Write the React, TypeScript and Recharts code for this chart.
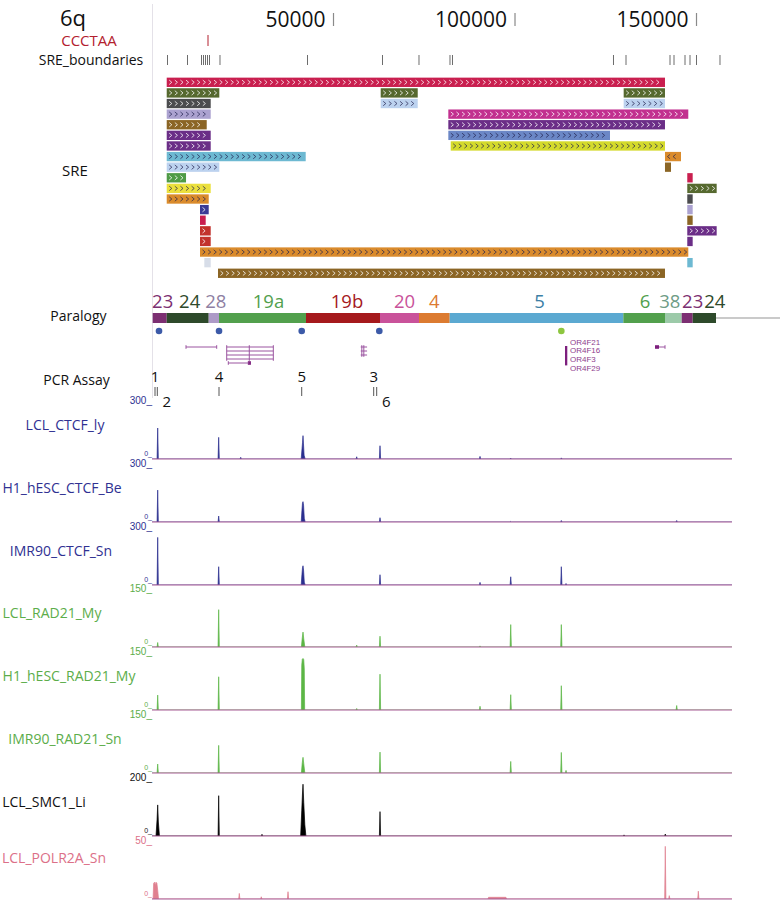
import React from 'react';
import { ComposedChart, Area, Scatter, XAxis, YAxis, ReferenceArea, ReferenceLine } from 'recharts';

// ---- coordinate frame (bp) ----
const X_MIN = -41873;
const X_MAX = 173000;
const TRACK_END = 159770;
const W = 780;
const FONT = '"Open Sans", "Noto Sans", sans-serif';
const SMALL_FONT = '"Liberation Sans", Arial, sans-serif';
const M0 = { top: 0, right: 0, bottom: 0, left: 0 };

// ---- header ----
const AXIS_TICKS = [50000, 100000, 150000];
const CCCTAA_SITES = [15430];
const SRE_BOUNDARIES = [
  4270, 9780, 13640, 14190, 14740, 15290, 15840, 18730, 42840, 63500, 73550,
  82090, 82780, 127130, 130580, 142700, 143800, 146830, 148210, 150000, 156470,
];

// ---- SRE blocks: [row, start, end, family, strand] ----
const SRE_ROWS = 19;
const SRE_SEGMENTS: [number, number, number, string, string][] = [
  [0, 4050, 141320, 'crimson', '+'],
  [1, 4050, 18540, 'olive', '+'],
  [1, 63000, 73200, 'olive', '+'],
  [1, 129940, 141320, 'olive', '+'],
  [2, 4050, 16170, 'slate', '+'],
  [2, 63000, 73200, 'sky', '+'],
  [2, 129940, 141320, 'sky', '+'],
  [3, 4050, 16170, 'lavender', '+'],
  [3, 81630, 147740, 'magenta', '+'],
  [4, 4050, 15070, 'bronze', '+'],
  [4, 81630, 141320, 'purple', '+'],
  [5, 4050, 16170, 'purple', '+'],
  [5, 81630, 126170, 'cornflower', '+'],
  [6, 4050, 16170, 'purple', '+'],
  [6, 82290, 141320, 'chartreuse', '+'],
  [7, 4050, 42340, 'cyan', '+'],
  [7, 141320, 145730, 'orange', '-'],
  [8, 4050, 18540, 'sky', '+'],
  [8, 141320, 142980, 'bronze', '+'],
  [9, 4050, 9370, 'green', '+'],
  [9, 147460, 148950, 'crimson', '+'],
  [10, 4050, 16170, 'yellow', '+'],
  [10, 147460, 155560, 'olive', '+'],
  [11, 4050, 15620, 'orange', '+'],
  [11, 147460, 148950, 'slate', '+'],
  [12, 13220, 15620, 'indigo', '+'],
  [12, 147460, 148950, 'lavender', '+'],
  [13, 13220, 14790, 'crimson', '+'],
  [13, 147460, 148950, 'bronze', '+'],
  [14, 13220, 16170, 'red', '+'],
  [14, 147460, 155560, 'purple', '+'],
  [15, 13220, 16170, 'red', '+'],
  [15, 147460, 148950, 'purple', '+'],
  [16, 13220, 147740, 'orange', '+'],
  [17, 14410, 16170, 'mist', '+'],
  [17, 147460, 148950, 'cyan', '+'],
  [18, 18180, 141320, 'bronze', '+'],
];

// ---- paralogy ----
const PARALOGY_BLOCKS = ['23', '24', '28', '19a', '19b', '20', '4', '5', '6', '38', '23', '24'];
const PARALOGY_STARTS = [190, 4050, 15620, 18460, 42420, 62810, 73550, 82010, 129840, 141320, 145920, 148950];
const PARALOGY_ENDS = [4050, 15620, 18460, 42420, 62810, 73550, 82010, 129840, 141320, 145920, 148950, 155370];
const PARALOGY_TAIL_END = 175000;

// ---- sites and genes ----
const DOT_POS = [1930, 18460, 41240, 62620, 112760];
const DOT_KIND = ['ctcf', 'ctcf', 'ctcf', 'ctcf', 'other'];

const GENE_LINES: [number, number, number][] = [
  [0, 9370, 17820],
  [0, 20580, 33420], [1, 20580, 33420], [2, 20580, 33420], [3, 20580, 33420],
  [4, 21020, 26800],
  [0, 57500, 59250], [1, 57500, 59250], [2, 57500, 59250],
  [0, 139670, 141320],
];
const GENE_TICKS: [number, number, number][] = [
  [9370, 0, 0], [17820, 0, 0],
  [20580, 0, 3], [26800, 0, 3], [33420, 0, 3],
  [21020, 4, 4],
  [57800, 0, 2], [58350, 0, 2],
  [141320, 0, 0],
];
const GENE_EXONS: [number, number, number, number][] = [
  [26400, 27250, 4, 4],
  [138570, 139670, 0, 0],
];
const OR_CLUSTER = [113770, 114400];
const OR_GENES = ['OR4F21', 'OR4F16', 'OR4F3', 'OR4F29'];

// ---- PCR assays ----
const PCR_NAMES = ['1', '2', '4', '5', '3', '6'];
const PCR_SITES = [830, 1460, 18460, 41240, 61070, 61900];

// ---- signal tracks: [bp, value] ----
const LCL_CTCF_LY = [
  [0, 0], [1400, 0], [1570, 166], [1740, 0],
  [18200, 0], [18370, 116], [18540, 0],
  [24270, 0], [24440, 9], [24610, 0],
  [41100, 0], [41330, 55], [41480, 90], [41600, 125], [41720, 85], [41900, 20], [42200, 0],
  [56220, 0], [56390, 12], [56560, 0],
  [62640, 0], [62810, 71], [62980, 0],
  [90190, 0], [90360, 14], [90530, 0],
  [98650, 0], [98820, 5], [98990, 0],
  [112590, 0], [112760, 6], [112930, 0],
  [159770, 0],
];
const H1_HESC_CTCF_BE = [
  [0, 0], [1400, 0], [1570, 171], [1740, 0],
  [18200, 0], [18370, 32], [18540, 0],
  [41100, 0], [41300, 60], [41450, 100], [41600, 109], [41750, 90], [41950, 20], [42200, 0],
  [62640, 0], [62810, 23], [62980, 0],
  [98650, 0], [98820, 3], [98990, 0],
  [112590, 0], [112760, 8], [112930, 0],
  [144370, 0], [144540, 8], [144710, 0],
  [159770, 0],
];
const IMR90_CTCF_SN = [
  [0, 0], [1400, 0], [1570, 255], [1740, 0],
  [18200, 0], [18370, 98], [18540, 0],
  [41100, 0], [41300, 55], [41450, 90], [41600, 103], [41750, 80], [41950, 15], [42200, 0],
  [62640, 0], [62810, 55], [62980, 0],
  [90190, 0], [90360, 14], [90530, 0],
  [98650, 0], [98820, 44], [98990, 0],
  [112590, 0], [112760, 98], [112930, 0],
  [113880, 0], [114050, 8], [114220, 0],
  [159770, 0],
];
const LCL_RAD21_MY = [
  [0, 0], [1400, 0], [1570, 12], [1740, 0],
  [18200, 0], [18370, 100], [18540, 0],
  [41150, 0], [41400, 25], [41600, 40], [41800, 22], [42100, 0],
  [56220, 0], [56390, 5], [56560, 0],
  [62640, 0], [62810, 29], [62980, 0],
  [90190, 0], [90360, 3], [90530, 0],
  [98650, 0], [98820, 60], [98990, 0],
  [112590, 0], [112760, 60], [112930, 0],
  [159770, 0],
];
const H1_HESC_RAD21_MY = [
  [0, 0], [1400, 0], [1570, 40], [1740, 0],
  [18200, 0], [18370, 89], [18540, 0],
  [41150, 0], [41250, 120], [41400, 136], [41600, 138], [41800, 135], [41950, 110], [42050, 0],
  [56220, 0], [56390, 4], [56560, 0],
  [62640, 0], [62810, 96], [62980, 0],
  [90190, 0], [90360, 10], [90530, 0],
  [98650, 0], [98820, 41], [98990, 0],
  [112590, 0], [112760, 65], [112930, 0],
  [144370, 0], [144540, 12], [144710, 0],
  [159770, 0],
];
const IMR90_RAD21_SN = [
  [0, 0], [1400, 0], [1570, 24], [1740, 0],
  [18200, 0], [18370, 74], [18540, 0],
  [41150, 0], [41400, 28], [41600, 42], [41800, 25], [42100, 0],
  [62640, 0], [62810, 56], [62980, 0],
  [98650, 0], [98820, 31], [98990, 0],
  [112590, 0], [112760, 55], [112930, 0],
  [113880, 0], [114050, 7], [114220, 0],
  [159770, 0],
];
const LCL_SMC1_LI = [
  [0, 0], [1100, 0], [1400, 60], [1570, 111], [1750, 50], [2050, 0],
  [18200, 0], [18370, 144], [18540, 0],
  [30130, 0], [30300, 6], [30470, 0],
  [40950, 0], [41250, 90], [41450, 150], [41600, 185], [41800, 120], [42100, 40], [42400, 0],
  [62640, 0], [62810, 87], [62980, 0],
  [129860, 0], [130030, 4], [130200, 0],
  [141230, 0], [141400, 7], [141570, 0],
  [159770, 0],
];
const LCL_POLR2A_SN = [
  [0, 0], [300, 0], [450, 14], [700, 15], [900, 12], [1100, 15], [1350, 14], [1600, 7], [1800, 0],
  [23880, 0], [24050, 5], [24220, 0],
  [29930, 0], [30100, 2], [30270, 0],
  [37300, 0], [37470, 6.5], [37640, 0],
  [92560, 0], [92700, 1.5], [97500, 1.5], [97710, 0],
  [141230, 0], [141400, 47], [141570, 0],
  [142330, 0], [142500, 3], [142670, 0],
  [150330, 0], [150500, 7], [150670, 0],
  [159770, 0],
];

const TRACK_NAMES = [
  'LCL_CTCF_ly', 'H1_hESC_CTCF_Be', 'IMR90_CTCF_Sn', 'LCL_RAD21_My',
  'H1_hESC_RAD21_My', 'IMR90_RAD21_Sn', 'LCL_SMC1_Li', 'LCL_POLR2A_Sn',
];
const TRACK_MAX = [300, 300, 300, 150, 150, 150, 200, 50];
const TRACK_PROFILES = [
  LCL_CTCF_LY, H1_HESC_CTCF_BE, IMR90_CTCF_SN, LCL_RAD21_MY,
  H1_HESC_RAD21_MY, IMR90_RAD21_SN, LCL_SMC1_LI, LCL_POLR2A_SN,
];

// ---- styles ----
const SRE_COLOR: Record<string, string> = {
  crimson: '#c91f4f', olive: '#56692f', slate: '#4b4c4e', sky: '#bcd2ef',
  lavender: '#aba2d0', magenta: '#c2308f', bronze: '#8b6525', purple: '#6b2e87',
  cornflower: '#6b87c6', chartreuse: '#d4da2c', cyan: '#6db9d2', orange: '#da8b2c',
  green: '#4f9b46', yellow: '#ebe03d', indigo: '#3a3b96', red: '#c2322c', mist: '#d7dde8',
};
const DARK_INK = new Set(['sky', 'lavender', 'cornflower', 'chartreuse', 'cyan', 'orange', 'yellow', 'mist']);

const PARALOGY_FILL: Record<string, string> = {
  '23': '#7c2f72', '24': '#2e4a2b', '28': '#ad9ac7', '19a': '#52a04d', '19b': '#a5191d',
  '20': '#c9529a', '4': '#dc7b31', '5': '#5ba9d1', '6': '#52a04d', '38': '#9ccaa9',
};
const PARALOGY_INK: Record<string, string> = {
  ...PARALOGY_FILL, '28': '#8f7fa3', '38': '#6f9c86', '5': '#3d7fa6',
};
const PARALOGY_NUDGE = [3, 2, 2, 6, 4, 5, 0, 3, 1, -3.5, 5.5, 10.5];

const GENE_COLOR = '#8e3d8e';
const BASELINE = '#a65a94';
const TRACK_BASE_Y = [459, 522, 584.5, 647, 710, 773, 836, 898.5];
const TRACK_H = 56;
const TRACK_FILL = ['#2b2f8f', '#2b2f8f', '#2b2f8f', '#5cb646', '#5cb646', '#5cb646', '#000000', '#e0808f'];
const TRACK_INK = ['#2f3192', '#2f3192', '#2f3192', '#5cad4a', '#5cad4a', '#5cad4a', '#111111', '#dc7088'];
const TRACK_LABEL_CX = [65, 62, 61, 52, 69, 65, 44, 54];
const TRACK_LABEL_DY = [-34, -34, -34, -34, -34, -34, -34, -41];

// clip=false keeps scatter glyphs/labels from being cut to the thin plot strip
const xAxis = (clip = true) => (
  <XAxis type="number" dataKey="x" domain={[X_MIN, X_MAX]} hide allowDataOverflow={clip} />
);

function Box({ top, height, children }: { top: number; height: number; children: React.ReactNode }) {
  return <div style={{ position: 'absolute', left: 0, top, width: W, height, overflow: 'visible' }}>{children}</div>;
}

function Label({ cx, cy, size, color = '#111', children }: any) {
  return (
    <div style={{
      position: 'absolute', left: cx - 150, width: 300, top: cy, transform: 'translateY(-50%)',
      textAlign: 'center', fontSize: size, lineHeight: 1, color, whiteSpace: 'nowrap',
    }}>{children}</div>
  );
}

const AxisTick = (props: any) => {
  const { x, payload } = props;
  return (
    <g>
      <text x={x - 8} y={27} textAnchor="end" fontSize={21} fill="#111" fontFamily={FONT}>{payload.value}</text>
      <line x1={x} x2={x} y1={13} y2={26} stroke="#8a8a8a" strokeWidth={1.2} />
    </g>
  );
};

function sreShape(family: string, strand: string) {
  return (p: any) => {
    const { x, y, width, height } = p;
    const ink = DARK_INK.has(family) ? 'rgba(35,35,80,0.8)' : 'rgba(255,255,255,0.85)';
    const yc = y + height / 2;
    let d = '';
    for (let cx = x + 2.5; cx + 2.6 <= x + width - 1.5; cx += 5.6) {
      d += strand === '-'
        ? `M${cx + 2.6},${yc - 2.2}L${cx},${yc}L${cx + 2.6},${yc + 2.2}`
        : `M${cx},${yc - 2.2}L${cx + 2.6},${yc}L${cx},${yc + 2.2}`;
    }
    return (
      <g>
        <rect x={x} y={y} width={width} height={height} fill={SRE_COLOR[family]} />
        {d && <path d={d} fill="none" stroke={ink} strokeWidth={0.9} />}
      </g>
    );
  };
}

function paralogyShape(i: number) {
  return (p: any) => {
    const name = PARALOGY_BLOCKS[i];
    return (
      <g>
        <rect x={p.x} y={p.y} width={p.width} height={p.height} fill={PARALOGY_FILL[name]} />
        <text x={p.x + p.width / 2 + PARALOGY_NUDGE[i]} y={p.y - 5} textAnchor="middle"
          fontSize={18.5} fill={PARALOGY_INK[name]} fontFamily={FONT}>{name}</text>
      </g>
    );
  };
}

const orShape = (p: any) => (
  <g>
    <rect x={p.x} y={p.y} width={Math.max(p.width, 2.3)} height={p.height} fill="#7d1f7d" />
    {OR_GENES.map((g, k) => (
      <text key={g} x={p.x + 5} y={p.y - 1.5 + k * 8.9} fontSize={8} fill={GENE_COLOR}
        fontFamily={SMALL_FONT}>{g}</text>
    ))}
  </g>
);

const dotShape = (p: any) => (
  <circle cx={p.cx} cy={p.cy} r={3.3} fill={p.payload.kind === 'ctcf' ? '#3c5aa8' : '#8dc63f'} />
);

const pcrShape = (p: any) => {
  const below = p.payload.name === '2' || p.payload.name === '6';
  return (
    <g>
      <line x1={p.cx} x2={p.cx} y1={p.cy - 4.5} y2={p.cy + 4.5} stroke="#555" strokeWidth={1} />
      <text x={below ? p.cx + 9.5 : p.cx} y={below ? p.cy + 15 : p.cy - 10} textAnchor="middle"
        fontSize={15} fill="#111" fontFamily={FONT}>{p.payload.name}</text>
    </g>
  );
};

const tickShape = (color: string, half: number) => (p: any) => (
  <line x1={p.cx} x2={p.cx} y1={p.cy - half} y2={p.cy + half} stroke={color} strokeWidth={1} />
);

export default function App() {
  const sreH = SRE_ROWS * 10.61;
  return (
    <div style={{
      position: 'absolute', left: 0, top: 0, width: W, height: 900, background: '#fff',
      fontFamily: FONT, overflow: 'hidden',
    }}>
      <style>{'.recharts-surface, .recharts-wrapper{overflow:visible !important}'}</style>
      <div style={{ position: 'absolute', left: 152, top: 4, width: 1, height: 394, background: '#e4e1e8' }} />

      {/* left labels */}
      <Label cx={73} cy={17} size={22}>6q</Label>
      <Label cx={89} cy={40} size={15} color="#b3202e">CCCTAA</Label>
      <Label cx={91} cy={60} size={14}>SRE_boundaries</Label>
      <Label cx={75} cy={170} size={15}>SRE</Label>
      <Label cx={78.5} cy={316} size={14}>Paralogy</Label>
      <Label cx={76.5} cy={380} size={14}>PCR Assay</Label>

      {/* coordinate axis */}
      <Box top={0} height={32}>
        <ComposedChart width={W} height={32} margin={M0}>
          <XAxis type="number" dataKey="x" domain={[X_MIN, X_MAX]} orientation="top" height={30}
            ticks={AXIS_TICKS} interval={0} axisLine={false} tickLine={false} tick={AxisTick} allowDataOverflow />
          <YAxis hide type="number" domain={[0, 1]} allowDataOverflow />
        </ComposedChart>
      </Box>

      {/* CCCTAA */}
      <Box top={35} height={11}>
        <ComposedChart width={W} height={11} margin={M0}>
          {xAxis(false)}
          <YAxis hide type="number" dataKey="y" domain={[-1, 1]} />
          <Scatter data={CCCTAA_SITES.map((x) => ({ x, y: 0 }))} dataKey="y" isAnimationActive={false}
            shape={tickShape('#b3202e', 5.5)} />
        </ComposedChart>
      </Box>

      {/* SRE boundaries */}
      <Box top={55} height={10}>
        <ComposedChart width={W} height={10} margin={M0}>
          {xAxis(false)}
          <YAxis hide type="number" dataKey="y" domain={[-1, 1]} />
          <Scatter data={SRE_BOUNDARIES.map((x) => ({ x, y: 0 }))} dataKey="y" isAnimationActive={false}
            shape={tickShape('#6d6d6d', 5)} />
        </ComposedChart>
      </Box>

      {/* SRE */}
      <Box top={77} height={sreH}>
        <ComposedChart width={W} height={sreH} margin={M0}>
          {xAxis()}
          <YAxis hide type="number" domain={[-0.5, SRE_ROWS - 0.5]} reversed allowDataOverflow />
          {SRE_SEGMENTS.map(([row, s, e, fam, strand], i) => (
            <ReferenceArea key={i} x1={s} x2={e} y1={row - 0.44} y2={row + 0.44} shape={sreShape(fam, strand)} />
          ))}
        </ComposedChart>
      </Box>

      {/* Paralogy */}
      <Box top={313.3} height={10}>
        <ComposedChart width={W} height={10} margin={M0}>
          {xAxis()}
          <YAxis hide type="number" domain={[0, 1]} allowDataOverflow />
          <ReferenceLine segment={[{ x: PARALOGY_ENDS[PARALOGY_ENDS.length - 1], y: 0.5 }, { x: PARALOGY_TAIL_END, y: 0.5 }]}
            stroke="#b9b9b9" strokeWidth={1.5} ifOverflow="visible" />
          {PARALOGY_BLOCKS.map((b, i) => (
            <ReferenceArea key={i} x1={PARALOGY_STARTS[i]} x2={PARALOGY_ENDS[i]} y1={0} y2={1} shape={paralogyShape(i)} />
          ))}
        </ComposedChart>
      </Box>

      {/* sites */}
      <Box top={327} height={8}>
        <ComposedChart width={W} height={8} margin={M0}>
          {xAxis(false)}
          <YAxis hide type="number" dataKey="y" domain={[-1, 1]} />
          <Scatter data={DOT_POS.map((x, i) => ({ x, y: 0, kind: DOT_KIND[i] }))} dataKey="y"
            isAnimationActive={false} shape={dotShape} />
        </ComposedChart>
      </Box>

      {/* genes */}
      <Box top={343} height={24}>
        <ComposedChart width={W} height={24} margin={M0}>
          {xAxis()}
          <YAxis hide type="number" domain={[-1, 5]} reversed allowDataOverflow />
          {GENE_LINES.map(([r, s, e], i) => (
            <ReferenceLine key={'l' + i} segment={[{ x: s, y: r }, { x: e, y: r }]} stroke="#9b55a0" strokeWidth={1} />
          ))}
          {GENE_TICKS.map(([pos, r0, r1], i) => (
            <ReferenceLine key={'t' + i} segment={[{ x: pos, y: r0 - 0.45 }, { x: pos, y: r1 + 0.45 }]} stroke="#9b55a0" strokeWidth={1} />
          ))}
          {GENE_EXONS.map(([s, e, r0, r1], i) => (
            <ReferenceArea key={'e' + i} x1={s} x2={e} y1={r0 - 0.45} y2={r1 + 0.45} fill="#7d1f7d" fillOpacity={1} />
          ))}
          <ReferenceArea x1={OR_CLUSTER[0]} x2={OR_CLUSTER[1]} y1={-0.25} y2={4.6} shape={orShape} />
        </ComposedChart>
      </Box>

      {/* PCR assays */}
      <Box top={386.5} height={9}>
        <ComposedChart width={W} height={9} margin={M0}>
          {xAxis(false)}
          <YAxis hide type="number" dataKey="y" domain={[-1, 1]} />
          <Scatter data={PCR_SITES.map((x, i) => ({ x, y: 0, name: PCR_NAMES[i] }))} dataKey="y"
            isAnimationActive={false} shape={pcrShape} />
        </ComposedChart>
      </Box>

      {/* signal tracks */}
      {TRACK_NAMES.map((name, i) => {
        const base = TRACK_BASE_Y[i];
        const top = base - TRACK_H;
        const data = TRACK_PROFILES[i].map(([x, v]) => ({ x, v }));
        return (
          <React.Fragment key={name}>
            <Label cx={TRACK_LABEL_CX[i]} cy={base + TRACK_LABEL_DY[i]} size={14} color={TRACK_INK[i]}>{name}</Label>
            <div style={{
              position: 'absolute', left: 92, width: 60, top: top - 6.7, textAlign: 'right',
              fontSize: 10, lineHeight: 1, color: TRACK_INK[i], fontFamily: SMALL_FONT,
            }}>{TRACK_MAX[i]}_</div>
            <div style={{
              position: 'absolute', left: 122, width: 30, top: base - 8.7, textAlign: 'right',
              fontSize: 7, lineHeight: 1, color: TRACK_INK[i], fontFamily: SMALL_FONT,
            }}>0_</div>
            <Box top={top} height={TRACK_H}>
              <ComposedChart width={W} height={TRACK_H} margin={M0} data={data}>
                {xAxis()}
                <YAxis hide type="number" domain={[0, TRACK_MAX[i]]} allowDataOverflow />
                <Area type="linear" dataKey="v" stroke={TRACK_FILL[i]} strokeWidth={0.7} fill={TRACK_FILL[i]}
                  fillOpacity={1} isAnimationActive={false} dot={false} activeDot={false} />
                <ReferenceLine segment={[{ x: 0, y: 0 }, { x: TRACK_END, y: 0 }]} stroke={BASELINE} strokeWidth={1} />
              </ComposedChart>
            </Box>
          </React.Fragment>
        );
      })}
    </div>
  );
}
